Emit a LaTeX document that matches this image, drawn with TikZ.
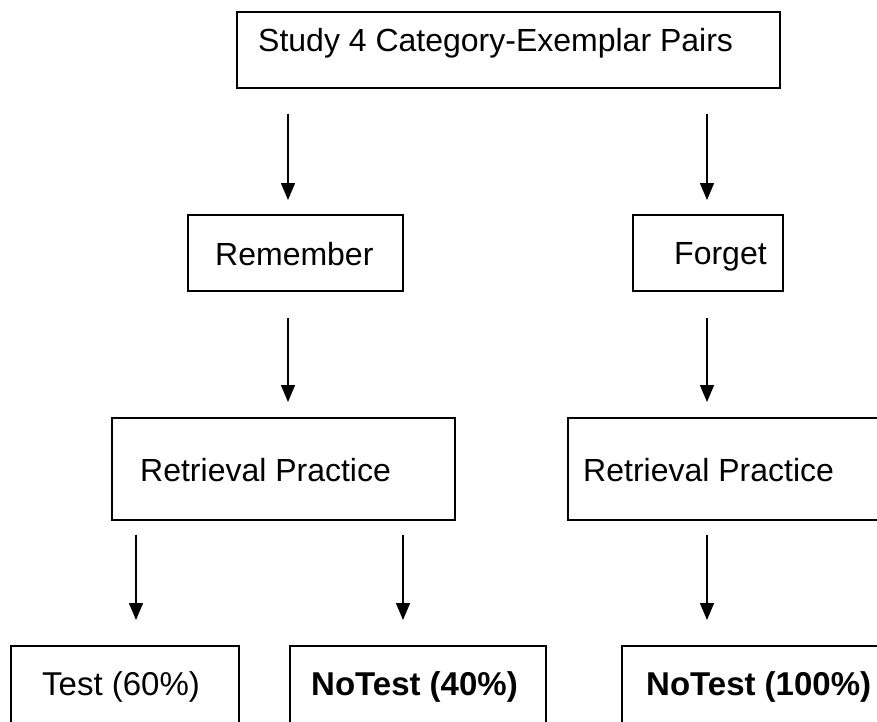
\documentclass[tikz,border=0pt]{standalone}
\usepackage{fontspec}
\setmainfont{Liberation Sans}
\usetikzlibrary{arrows.meta}

\tikzset{
  box/.style={draw, line width=1.6pt, anchor=north west, inner sep=0pt},
  txt/.style={anchor=base west, inner sep=0pt, font=\fontsize{32}{38}\selectfont},
  bigtxt/.style={txt, font=\fontsize{33}{39}\selectfont},
  arr/.style={line width=1.5pt, -{Triangle[width=14pt,length=17pt]}},
}

\begin{document}
\begin{tikzpicture}[x=1pt,y=-1pt]
  \clip (0,0) rectangle (877,721);

  % boxes
  \node[box,minimum width=543pt,minimum height=76pt] (study) at (236,11) {};
  \node[box,minimum width=215pt,minimum height=76pt] (rem) at (187,214) {};
  \node[box,minimum width=150pt,minimum height=76pt] (forget) at (632,214) {};
  \node[box,minimum width=343pt,minimum height=102pt] (rpl) at (111,417) {};
  \node[box,minimum width=330pt,minimum height=102pt] (rpr) at (567,417) {};
  \node[box,minimum width=228pt,minimum height=110pt] (test) at (10,645) {};
  \node[box,minimum width=256pt,minimum height=110pt] (nt40) at (289,645) {};
  \node[box,minimum width=300pt,minimum height=110pt] (nt100) at (621,645) {};

  % texts
  \node[txt] (studyt) at (258,51) {Study 4 Category-Exemplar Pairs};
  \node[txt] (remt) at (215,265) {Remember};
  \node[txt] (forgett) at (674,264) {Forget};
  \node[txt] (rplt) at (140,481) {Retrieval Practice};
  \node[txt] (rprt) at (583,481) {Retrieval Practice};
  \node[bigtxt] (testt) at (42,695) {Test (60\%)};
  \node[bigtxt] (nt40t) at (311,695) {\bfseries NoTest (40\%)};
  \node[bigtxt] (nt100t) at (646,695) {\bfseries NoTest (100\%)};

  % arrow columns
  \coordinate (c1) at (288,0);
  \coordinate (c2) at (707,0);
  \coordinate (c3) at (136,0);
  \coordinate (c4) at (403,0);

  \draw[arr,shorten <=25pt,shorten >=14pt] (study.south -| c1) -- (rem.north -| c1);
  \draw[arr,shorten <=25pt,shorten >=14pt] (study.south -| c2) -- (forget.north -| c2);
  \draw[arr,shorten <=26pt,shorten >=15pt] (rem.south -| c1) -- (rpl.north -| c1);
  \draw[arr,shorten <=26pt,shorten >=15pt] (forget.south -| c2) -- (rpr.north -| c2);
  \draw[arr,shorten <=14pt,shorten >=25pt] (rpl.south -| c3) -- (test.north -| c3);
  \draw[arr,shorten <=14pt,shorten >=25pt] (rpl.south -| c4) -- (nt40.north -| c4);
  \draw[arr,shorten <=14pt,shorten >=25pt] (rpr.south -| c2) -- (nt100.north -| c2);
\end{tikzpicture}
\end{document}
